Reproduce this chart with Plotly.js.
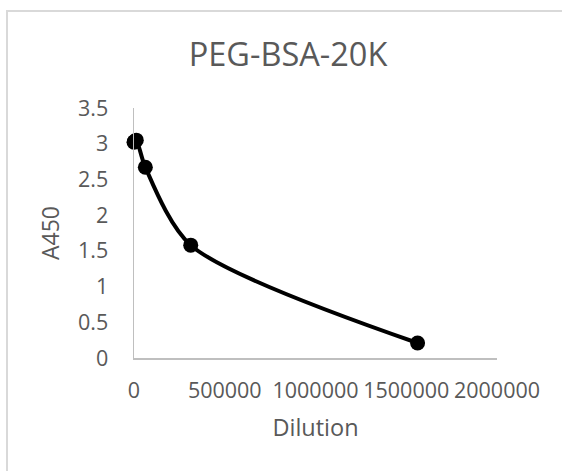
<!DOCTYPE html>
<html>
<head>
<meta charset="utf-8">
<script src="https://cdn.plot.ly/plotly-3.0.1.min.js"></script>
<style>
  html, body { margin: 0; padding: 0; background: #ffffff; }
  #frame { position: absolute; left: 6px; top: 10px; width: 600px; height: 520px; border: 2px solid #d9d9d9; box-sizing: border-box; }
  #chart { position: absolute; left: 0; top: 0; width: 562px; height: 471px; }
</style>
</head>
<body>
<div id="frame"></div>
<div id="chart"></div>
<script>
const chartTitle = "PEG-BSA-20K";
const xTitle = "Dilution";
const yTitle = "A450";
const dilution = [100, 2500, 12500, 62500, 312500, 1562500];
const a450 = [3.02, 3.03, 3.05, 2.67, 1.58, 0.21];

const textColor = "#595959";
const fontFam = "'Open Sans', 'Noto Sans', sans-serif";

Plotly.newPlot("chart", [{
  type: "scatter",
  mode: "lines+markers",
  x: dilution,
  y: a450,
  line: { color: "#000000", width: 4, shape: "spline", smoothing: 0.8 },
  marker: { color: "#000000", size: 15 },
  cliponaxis: false,
  hoverinfo: "x+y"
}], {
  width: 562,
  height: 471,
  margin: { l: 134, r: 65, t: 108, b: 113 },
  paper_bgcolor: "rgba(0,0,0,0)",
  plot_bgcolor: "rgba(0,0,0,0)",
  showlegend: false,
  font: { family: fontFam, color: textColor, size: 21.5 },
  title: {
    text: chartTitle,
    font: { family: fontFam, color: textColor, size: 32.5 },
    xref: "container", x: 0.5125, xanchor: "center",
    yref: "container", y: 0.885, yanchor: "middle"
  },
  xaxis: {
    range: [0, 2000000],
    dtick: 500000,
    tick0: 0,
    tickformat: "d",
    showgrid: false,
    zeroline: false,
    showline: true,
    linecolor: "#bfbfbf",
    linewidth: 1.5,
    ticks: "outside",
    ticklen: 13,
    tickcolor: "rgba(0,0,0,0)",
    tickfont: { family: fontFam, color: textColor, size: 21.5 },
    title: { text: xTitle, font: { family: fontFam, color: textColor, size: 23.5 }, standoff: 16 }
  },
  yaxis: {
    range: [0, 3.5],
    dtick: 0.5,
    tick0: 0,
    showgrid: false,
    zeroline: false,
    showline: true,
    linecolor: "#bfbfbf",
    linewidth: 1.5,
    ticks: "outside",
    ticklen: 20,
    tickcolor: "rgba(0,0,0,0)",
    tickfont: { family: fontFam, color: textColor, size: 21.5 },
    title: { text: yTitle, font: { family: fontFam, color: textColor, size: 23 }, standoff: 12 }
  }
}, { displayModeBar: false, staticPlot: true });
</script>
</body>
</html>
